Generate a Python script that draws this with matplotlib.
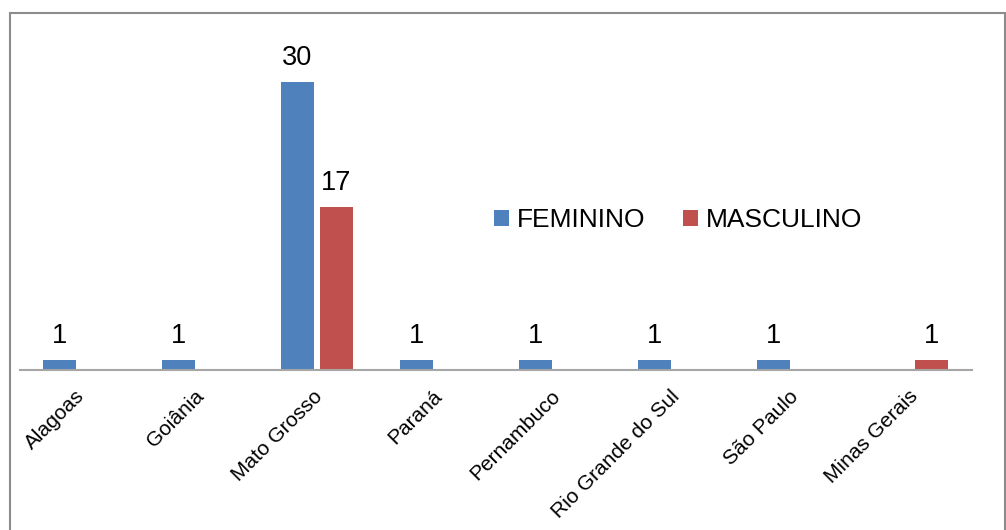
import matplotlib
matplotlib.use("Agg")
import matplotlib.pyplot as plt
import matplotlib.transforms as mtransforms
import numpy as np
from matplotlib.patches import Rectangle

plt.rcParams['font.family'] = ['Liberation Sans', 'DejaVu Sans']

categories = ["Alagoas", "Goiânia", "Mato Grosso", "Paraná", "Pernambuco",
              "Rio Grande do Sul", "São Paulo", "Minas Gerais"]
feminino = [1, 1, 30, 1, 1, 1, 1, None]
masculino = [None, None, 17, None, None, None, None, 1]
series_names = ["FEMININO", "MASCULINO"]
colors = ["#4F81BD", "#C0504D"]

W, H = 1006, 530
fig = plt.figure(figsize=(W / 100, H / 100), dpi=100)
fig.patch.set_facecolor("white")

# plot area in pixel terms
x0, x1 = 19.5, 971.5
y_base, y_top = 370, 34
ax = fig.add_axes([x0 / W, (H - y_base) / H, (x1 - x0) / W, (y_base - y_top) / H])

x = np.arange(len(categories))
bw = 0.27
off = 0.164
for vals, sign, color, name in [(feminino, -1, colors[0], series_names[0]),
                                (masculino, 1, colors[1], series_names[1])]:
    xs = [xi + sign * off for xi, v in zip(x, vals) if v is not None]
    vs = [v for v in vals if v is not None]
    bars = ax.bar(xs, vs, width=bw, color=color, label=name, zorder=2)
    for b, v in zip(bars, vs):
        ax.annotate(str(v), (b.get_x() + b.get_width() / 2, v),
                    xytext=(0, 8), textcoords="offset points",
                    ha="center", va="bottom", fontsize=19.5, color="black")

ax.set_xlim(-0.5, len(categories) - 0.5)
ax.set_ylim(0, 35)
ax.set_yticks([])
ax.set_xticks(x)
ax.set_xticklabels(categories, rotation=45, ha="right", va="top",
                   rotation_mode="anchor", fontsize=15)
ax.tick_params(axis="x", length=0, pad=12)
shift = mtransforms.ScaledTranslation(-4 / 100, 0, fig.dpi_scale_trans)
for lbl in ax.get_xticklabels():
    lbl.set_transform(lbl.get_transform() + shift)
for s in ["top", "right", "left"]:
    ax.spines[s].set_visible(False)
ax.spines["bottom"].set_color("#A6A6A6")
ax.spines["bottom"].set_linewidth(1.5)
ax.patch.set_alpha(0)

leg = ax.legend(loc="center left", bbox_to_anchor=(494 / W, (H - 220) / H),
                bbox_transform=fig.transFigure, ncol=2, frameon=False,
                fontsize=19, handlelength=0.55, handleheight=0.55,
                handletextpad=0.3, columnspacing=1.45, borderaxespad=0,
                borderpad=0)

# outer chart frame
fig.add_artist(Rectangle((9.5 / W, -0.05), (1005 - 9.5) / W, (H - 12.5) / H + 0.05,
                         transform=fig.transFigure, fill=False,
                         edgecolor="#8C8C8C", linewidth=1.5))

fig.savefig("out.png", dpi=100)
